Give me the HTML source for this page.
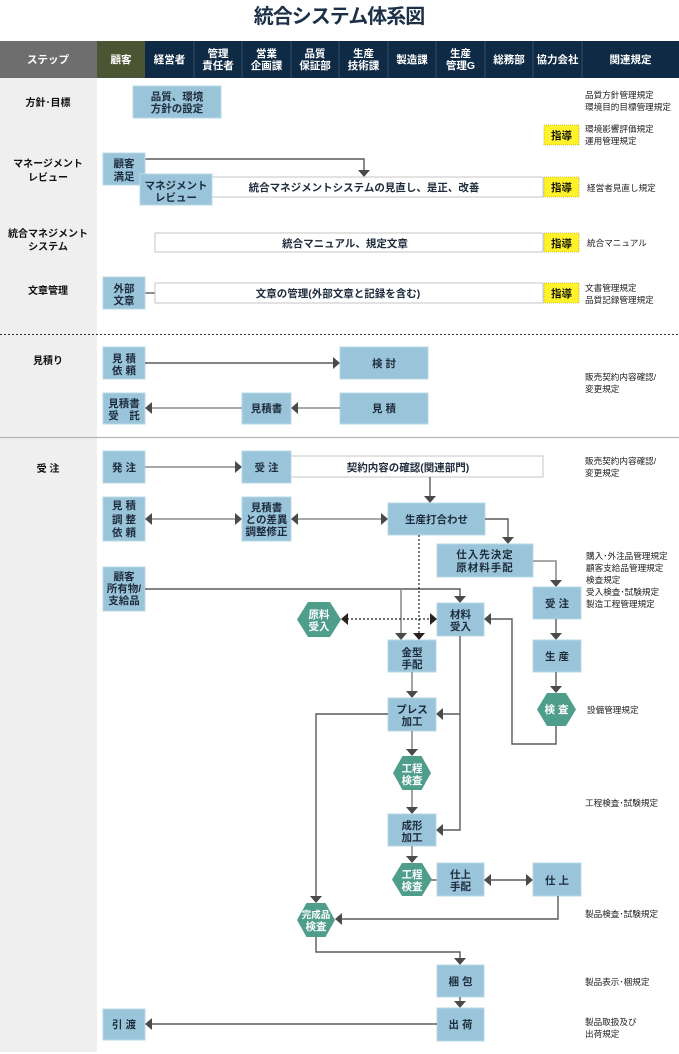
<!DOCTYPE html>
<html><head><meta charset="utf-8"><style>
html,body{margin:0;padding:0;background:#fff;width:679px;height:1054px;overflow:hidden}
svg{display:block}
text{font-family:"Liberation Sans","Noto Sans CJK JP",sans-serif}
.h{fill:#fff;font-size:10.5px;font-weight:bold;text-anchor:middle}
.b{fill:#1e2c3c;font-size:10.5px;font-weight:bold;text-anchor:middle}
.x{fill:#fff;font-size:10.5px;font-weight:bold;text-anchor:middle}
.l{fill:#111;font-size:10px;font-weight:bold;text-anchor:middle}
.r{fill:#222;font-size:8.6px}
.y{fill:#111;font-size:10.5px;font-weight:bold;text-anchor:middle}
.bx{fill:#99c4da;stroke:#b9d8e7;stroke-width:1}
.wb{fill:#fff;stroke:#c4c4c4;stroke-width:1}
.yb{fill:#fff22a;stroke:#b8ad3a;stroke-width:0.8;stroke-dasharray:1,1}
.hx{fill:#4f9d8b}
.ln{fill:none;stroke:#5a5a5a;stroke-width:1.4}
.lg{fill:none;stroke:#8c8c8c;stroke-width:1.6}
.ar{fill:#4a4a4a}
</style></head><body>
<svg width="679" height="1054" viewBox="0 0 679 1054" xmlns="http://www.w3.org/2000/svg">
<!-- title -->
<text x="339" y="23" text-anchor="middle" style="font-size:20px;font-weight:bold;fill:#1c3048;letter-spacing:-1px">統合システム体系図</text>

<!-- left grey column -->
<rect x="0" y="78" width="97" height="974" fill="#efefef"/>

<!-- header -->
<rect x="0" y="41" width="97" height="37" fill="#6e6e6e"/>
<rect x="97" y="41" width="48" height="37" fill="#4b5533"/>
<rect x="145" y="41" width="534" height="37" fill="#0e2a45"/>
<g stroke="#33506c" stroke-width="1">
<line x1="194" y1="41" x2="194" y2="78"/><line x1="242" y1="41" x2="242" y2="78"/>
<line x1="291" y1="41" x2="291" y2="78"/><line x1="339" y1="41" x2="339" y2="78"/>
<line x1="388" y1="41" x2="388" y2="78"/><line x1="436" y1="41" x2="436" y2="78"/>
<line x1="485" y1="41" x2="485" y2="78"/><line x1="533" y1="41" x2="533" y2="78"/>
<line x1="582" y1="41" x2="582" y2="78"/>
</g>
<text class="h" x="48" y="63">ステップ</text>
<text class="h" x="121" y="63">顧客</text>
<text class="h" x="169.5" y="63">経営者</text>
<text class="h" x="218" y="57">管理</text><text class="h" x="218" y="69">責任者</text>
<text class="h" x="266.5" y="57">営業</text><text class="h" x="266.5" y="69">企画課</text>
<text class="h" x="315" y="57">品質</text><text class="h" x="315" y="69">保証部</text>
<text class="h" x="363.5" y="57">生産</text><text class="h" x="363.5" y="69">技術課</text>
<text class="h" x="412" y="63">製造課</text>
<text class="h" x="460.5" y="57">生産</text><text class="h" x="460.5" y="69">管理G</text>
<text class="h" x="509" y="63">総務部</text>
<text class="h" x="557.5" y="63">協力会社</text>
<text class="h" x="630.5" y="63">関連規定</text>

<!-- separators -->
<line x1="0" y1="334.5" x2="679" y2="334.5" stroke="#333" stroke-width="1" stroke-dasharray="2,2"/>
<line x1="0" y1="437.5" x2="679" y2="437.5" stroke="#b4b4b4" stroke-width="1.2"/>

<!-- left labels -->
<text class="l" x="48" y="106">方針･目標</text>
<text class="l" x="48" y="167">マネージメント</text><text class="l" x="48" y="181">レビュー</text>
<text class="l" x="48" y="237">統合マネジメント</text><text class="l" x="48" y="250">システム</text>
<text class="l" x="48" y="294">文章管理</text>
<text class="l" x="48" y="364">見積り</text>
<text class="l" x="48" y="472">受 注</text>

<!-- ===== Section 1 ===== -->
<rect class="bx" x="133" y="86" width="88" height="32"/>
<text class="b" x="177" y="100">品質、環境</text><text class="b" x="177" y="112">方針の設定</text>
<text class="r" x="585" y="98">品質方針管理規定</text>
<text class="r" x="585" y="110">環境目的目標管理規定</text>

<rect class="yb" x="544" y="125" width="35" height="20"/>
<text class="y" x="561.5" y="139">指導</text>
<text class="r" x="585" y="132">環境影響評価規定</text>
<text class="r" x="585" y="144">運用管理規定</text>

<path class="ln" d="M145 159 H364 V171"/>
<polygon class="ar" points="358,170 370,170 364,177"/>
<rect class="wb" x="212" y="177" width="331" height="20"/>
<text class="b" x="364" y="191">統合マネジメントシステムの見直し、是正、改善</text>
<rect class="bx" x="103" y="153" width="42" height="32"/>
<text class="b" x="124" y="167">顧客</text><text class="b" x="124" y="180">満足</text>
<rect class="bx" x="140" y="174" width="72" height="31"/>
<text class="b" x="176" y="189">マネジメント</text><text class="b" x="176" y="201">レビュー</text>
<rect class="yb" x="544" y="177" width="35" height="20"/>
<text class="y" x="561.5" y="191">指導</text>
<text class="r" x="587" y="191">経営者見直し規定</text>

<rect class="wb" x="155" y="233" width="388" height="19"/>
<text class="b" x="345" y="247">統合マニュアル、規定文章</text>
<rect class="yb" x="544" y="233" width="35" height="19"/>
<text class="y" x="561.5" y="247">指導</text>
<text class="r" x="587" y="246">統合マニュアル</text>

<line class="ln" x1="145" y1="293" x2="155" y2="293"/>
<rect class="bx" x="103" y="277" width="42" height="32"/>
<text class="b" x="124" y="292">外部</text><text class="b" x="124" y="304">文章</text>
<rect class="wb" x="155" y="283" width="388" height="20"/>
<text class="b" x="338" y="297">文章の管理(外部文章と記録を含む)</text>
<rect class="yb" x="544" y="283" width="35" height="20"/>
<text class="y" x="561.5" y="297">指導</text>
<text class="r" x="585" y="291">文書管理規定</text>
<text class="r" x="585" y="303">品質記録管理規定</text>

<!-- ===== Section 2 ===== -->
<rect class="bx" x="103" y="347" width="42" height="32"/>
<text class="b" x="124" y="362">見 積</text><text class="b" x="124" y="374">依 頼</text>
<line class="ln" x1="145" y1="363" x2="334" y2="363"/>
<polygon class="ar" points="333,357 340,363 333,369"/>
<rect class="bx" x="340" y="347" width="88" height="32"/>
<text class="b" x="384" y="367">検 討</text>
<rect class="bx" x="340" y="393" width="88" height="31"/>
<text class="b" x="384" y="412">見 積</text>
<line class="lg" x1="340" y1="408" x2="297" y2="408"/>
<polygon class="ar" points="298,402 291,408 298,414"/>
<rect class="bx" x="242" y="393" width="49" height="31"/>
<text class="b" x="266.5" y="412">見積書</text>
<line class="lg" x1="242" y1="408" x2="151" y2="408"/>
<polygon class="ar" points="152,402 145,408 152,414"/>
<rect class="bx" x="103" y="393" width="42" height="31"/>
<text class="b" x="124" y="407">見積書</text><text class="b" x="124" y="419">受　託</text>
<text class="r" x="585" y="380">販売契約内容確認/</text>
<text class="r" x="585" y="392">変更規定</text>

<!-- ===== Section 3 ===== -->
<rect class="bx" x="103" y="451" width="42" height="32"/>
<text class="b" x="124" y="471">発 注</text>
<line class="lg" x1="145" y1="467" x2="236" y2="467"/>
<polygon class="ar" points="235,461 242,467 235,473"/>
<rect class="wb" x="291" y="456" width="252" height="21"/>
<text class="b" x="408" y="471">契約内容の確認(関連部門)</text>
<rect class="bx" x="242" y="451" width="49" height="32"/>
<text class="b" x="266.5" y="471">受 注</text>
<text class="r" x="585" y="464">販売契約内容確認/</text>
<text class="r" x="585" y="476">変更規定</text>

<line class="ln" x1="430" y1="477" x2="430" y2="497"/>
<polygon class="ar" points="424,496 436,496 430,503"/>
<rect class="bx" x="388" y="503" width="97" height="32"/>
<text class="b" x="436.5" y="523">生産打合わせ</text>

<rect class="bx" x="103" y="497" width="42" height="44"/>
<text class="b" x="124" y="509">見 積</text><text class="b" x="124" y="523">調 整</text><text class="b" x="124" y="536">依 頼</text>
<line class="lg" x1="151" y1="519" x2="236" y2="519"/>
<polygon class="ar" points="152,513 145,519 152,525"/>
<polygon class="ar" points="235,513 242,519 235,525"/>
<rect class="bx" x="242" y="497" width="49" height="44"/>
<text class="b" x="266.5" y="511">見積書</text><text class="b" x="266.5" y="523">との差異</text><text class="b" x="266.5" y="535">調整修正</text>
<line class="lg" x1="297" y1="519" x2="382" y2="519"/>
<polygon class="ar" points="298,513 291,519 298,525"/>
<polygon class="ar" points="381,513 388,519 381,525"/>

<path class="ln" d="M485 519 H508 V537"/>
<polygon class="ar" points="502,537 514,537 508,544"/>
<rect class="bx" x="437" y="544" width="96" height="33"/>
<text class="b" x="485" y="558" style="letter-spacing:1px">仕入先決定</text><text class="b" x="485" y="571" style="letter-spacing:1px">原材料手配</text>

<path class="lg" d="M533 561 H556 V580"/>
<polygon class="ar" points="550,580 562,580 556,587"/>
<rect class="bx" x="533" y="587" width="48" height="32"/>
<text class="b" x="557" y="607">受 注</text>
<line class="ln" x1="556" y1="619" x2="556" y2="633"/>
<polygon class="ar" points="550,633 562,633 556,640"/>
<rect class="bx" x="533" y="640" width="48" height="32"/>
<text class="b" x="557" y="660">生 産</text>
<line class="ln" x1="556" y1="672" x2="556" y2="686"/>
<polygon class="ar" points="550,686 562,686 556,693"/>
<polygon class="hx" points="537,709.5 547,693 566,693 576,709.5 566,726 547,726"/>
<text class="x" x="556.5" y="713">検 査</text>
<text class="r" x="587" y="713">設備管理規定</text>
<path class="ln" d="M556 726 V744 H512 V619 H490"/>
<polygon class="ar" points="491,613 484,619 491,625"/>

<text class="r" x="586" y="559">購入･外注品管理規定</text>
<text class="r" x="586" y="571">顧客支給品管理規定</text>
<text class="r" x="586" y="583">検査規定</text>
<text class="r" x="586" y="595">受入検査･試験規定</text>
<text class="r" x="586" y="607">製造工程管理規定</text>

<!-- customer-supplied line -->
<rect class="bx" x="103" y="567" width="42" height="44"/>
<text class="b" x="124" y="580">顧客</text><text class="b" x="124" y="592">所有物/</text><text class="b" x="124" y="604">支給品</text>
<path class="ln" d="M145 589 H460 V597"/>
<polygon class="ar" points="454,596 466,596 460,603"/>
<line class="lg" x1="401" y1="589" x2="401" y2="633"/>
<polygon class="ar" points="395,633 407,633 401,640"/>
<line x1="419" y1="535" x2="419" y2="633" stroke="#222" stroke-width="1.2" stroke-dasharray="2,2"/>
<polygon points="413,633 425,633 419,640" fill="#2a2020"/>

<rect class="bx" x="437" y="603" width="47" height="33"/>
<text class="b" x="460.5" y="618">材料</text><text class="b" x="460.5" y="630">受入</text>

<line x1="347" y1="619" x2="431" y2="619" stroke="#222" stroke-width="1.2" stroke-dasharray="2,2"/>
<polygon points="430,613 437,619 430,625" fill="#2a2020"/>
<polygon points="348,613 341,619 348,625" fill="#2a2020"/>
<polygon class="hx" points="297,619.5 308,602 330,602 341,619.5 330,637 308,637"/>
<text class="x" x="319" y="618">原料</text><text class="x" x="319" y="630">受入</text>

<rect class="bx" x="388" y="640" width="48" height="32"/>
<text class="b" x="412" y="656">金型</text><text class="b" x="412" y="668">手配</text>
<line class="lg" x1="412" y1="672" x2="412" y2="691"/>
<polygon class="ar" points="406,691 418,691 412,698"/>

<path class="ln" d="M460 636 V830 H442"/>
<line class="ln" x1="460" y1="714" x2="442" y2="714"/>
<polygon class="ar" points="443,708 436,714 443,720"/>
<polygon class="ar" points="443,824 436,830 443,836"/>

<rect class="bx" x="388" y="698" width="48" height="33"/>
<text class="b" x="412" y="713">プレス</text><text class="b" x="412" y="725">加工</text>
<path class="ln" d="M388 714 H316 V896"/>
<polygon class="ar" points="310,896 322,896 316,903"/>

<line class="lg" x1="412" y1="731" x2="412" y2="749"/>
<polygon class="ar" points="406,749 418,749 412,756"/>
<polygon class="hx" points="393,773 402.5,756 421.5,756 431,773 421.5,790 402.5,790"/>
<text class="x" x="412" y="772">工程</text><text class="x" x="412" y="784">検査</text>
<line class="lg" x1="412" y1="790" x2="412" y2="807"/>
<polygon class="ar" points="406,807 418,807 412,814"/>
<rect class="bx" x="388" y="814" width="48" height="32"/>
<text class="b" x="412" y="829">成形</text><text class="b" x="412" y="841">加工</text>
<text class="r" x="585" y="806">工程検査･試験規定</text>

<line class="lg" x1="412" y1="846" x2="412" y2="856"/>
<polygon class="ar" points="406,856 418,856 412,863"/>
<line class="ln" x1="430" y1="880" x2="437" y2="880"/>
<polygon class="hx" points="392,879.5 402,863 422,863 432,879.5 422,896 402,896"/>
<text class="x" x="412" y="878">工程</text><text class="x" x="412" y="890">検査</text>
<rect class="bx" x="437" y="863" width="47" height="33"/>
<text class="b" x="460.5" y="878">仕上</text><text class="b" x="460.5" y="890">手配</text>
<line class="ln" x1="490" y1="880" x2="527" y2="880"/>
<polygon class="ar" points="491,874 484,880 491,886"/>
<polygon class="ar" points="526,874 533,880 526,886"/>
<rect class="bx" x="533" y="863" width="48" height="33"/>
<text class="b" x="557" y="884">仕 上</text>

<path class="ln" d="M558 896 V919 H341"/>
<polygon class="ar" points="342,913 335,919 342,925"/>
<polygon class="hx" points="297,920 306.5,903 325.5,903 335,920 325.5,937 306.5,937"/>
<text class="x" x="316" y="918" style="font-size:9.5px">完成品</text><text class="x" x="316" y="930">検査</text>
<text class="r" x="585" y="917">製品検査･試験規定</text>

<path class="ln" d="M316 937 V952 H460 V958"/>
<polygon class="ar" points="454,958 466,958 460,965"/>
<rect class="bx" x="437" y="965" width="47" height="32"/>
<text class="b" x="460.5" y="985">梱 包</text>
<text class="r" x="585" y="985">製品表示･梱規定</text>
<line class="ln" x1="460" y1="997" x2="460" y2="1001"/>
<polygon class="ar" points="454,1001 466,1001 460,1008"/>
<rect class="bx" x="437" y="1008" width="47" height="33"/>
<text class="b" x="460.5" y="1028">出 荷</text>
<line class="ln" x1="437" y1="1024" x2="151" y2="1024"/>
<polygon class="ar" points="152,1018 145,1024 152,1030"/>
<rect class="bx" x="103" y="1009" width="42" height="31"/>
<text class="b" x="124" y="1028">引 渡</text>
<text class="r" x="585" y="1025">製品取扱及び</text>
<text class="r" x="585" y="1037">出荷規定</text>
</svg>
</body></html>
